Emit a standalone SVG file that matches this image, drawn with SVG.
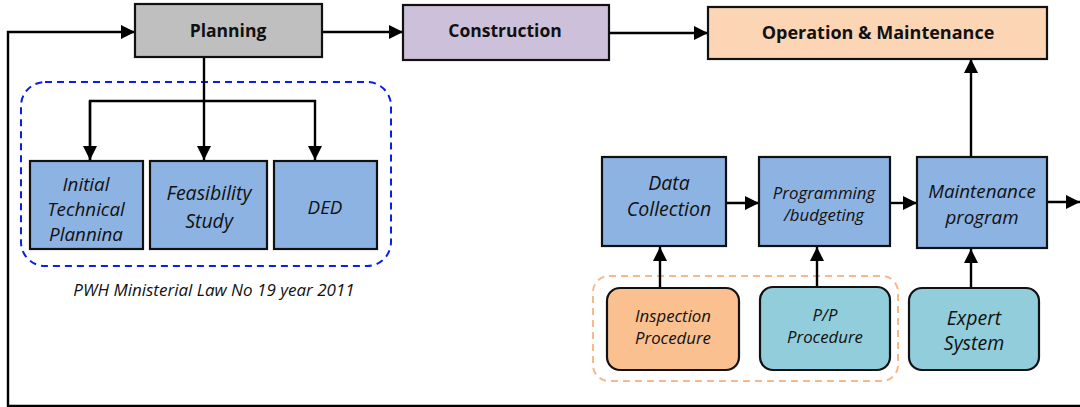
<svg xmlns="http://www.w3.org/2000/svg" width="1080" height="407" viewBox="0 0 1080 407">
  <style>
    .box { stroke: #111; stroke-width: 2.2; }
    .wire { fill: none; stroke: #000; stroke-width: 2.4; }
    .title { font-family: "Open Sans", "Liberation Sans", sans-serif; font-weight: bold; font-size: 17.5px; fill: #111; text-anchor: middle; dominant-baseline: central; }
    .lbl { font-family: "Open Sans", "Liberation Sans", sans-serif; font-style: italic; font-size: 18.8px; fill: #111; text-anchor: middle; dominant-baseline: central; }
    .sm { font-size: 16.8px; }
    .grey { fill: #bfbfbf; }
    .lilac { fill: #ccc0da; }
    .peach { fill: #fcd5b4; }
    .blue { fill: #8db3e2; }
    .orange { fill: #fac090; }
    .teal { fill: #92cddc; }
  </style>
  <defs>
    <marker id="arrow" viewBox="0 0 14 14" refX="14" refY="7" markerWidth="14" markerHeight="14" markerUnits="userSpaceOnUse" orient="auto">
      <path d="M0,0 L14,7 L0,14 Z" fill="#000"/>
    </marker>
  </defs>

  <rect width="1080" height="407" fill="#fff"/>

  <!-- dashed group outlines -->
  <rect x="21" y="82" width="370" height="184" rx="24" fill="none" stroke="#0a1cf0" stroke-width="2" stroke-dasharray="7,5"/>
  <rect x="593" y="276" width="305" height="105" rx="16" fill="none" stroke="#f8b98a" stroke-width="2" stroke-dasharray="7,5"/>
  <text x="214" y="289" class="lbl" style="font-size:17px">PWH Ministerial Law No 19 year 2011</text>

  <!-- connectors -->
  <g id="connectors">
    <polyline class="wire" points="1080,406 8,406 8,32 135,32" stroke="#333" marker-end="url(#arrow)"/>
    <line class="wire" x1="322" y1="32" x2="403" y2="32" marker-end="url(#arrow)"/>
    <line class="wire" x1="609" y1="33" x2="708" y2="33" marker-end="url(#arrow)"/>
    <line class="wire" x1="204" y1="57" x2="204" y2="160" marker-end="url(#arrow)"/>
    <polyline class="wire" points="90,160 90,101 315,101 315,160" marker-end="url(#arrow)"/>
    <line class="wire" x1="90" y1="101" x2="90" y2="160" marker-end="url(#arrow)"/>
    <line class="wire" x1="726" y1="203" x2="759" y2="203" marker-end="url(#arrow)"/>
    <line class="wire" x1="890" y1="203" x2="917" y2="203" marker-end="url(#arrow)"/>
    <line class="wire" x1="1047" y1="202" x2="1080" y2="202" marker-end="url(#arrow)"/>
    <line class="wire" x1="971" y1="157" x2="971" y2="59" marker-end="url(#arrow)"/>
    <line class="wire" x1="660" y1="288" x2="660" y2="247" marker-end="url(#arrow)"/>
    <line class="wire" x1="817" y1="287" x2="817" y2="247" marker-end="url(#arrow)"/>
    <line class="wire" x1="971" y1="288" x2="971" y2="249" marker-end="url(#arrow)"/>
  </g>

  <!-- top lifecycle stages -->
  <g id="planning">
    <rect class="box grey" x="135" y="4" width="187" height="53"/>
    <text class="title" x="228" y="30">Planning</text>
  </g>
  <g id="construction">
    <rect class="box lilac" x="403" y="5" width="206" height="55"/>
    <text class="title" x="505" y="30">Construction</text>
  </g>
  <g id="operation-maintenance">
    <rect class="box peach" x="708" y="7" width="339" height="52"/>
    <text class="title" x="878" y="32" style="font-size:18px">Operation &amp; Maintenance</text>
  </g>

  <!-- planning sub-stages -->
  <g id="initial-technical">
    <rect class="box blue" x="30" y="161" width="113" height="88"/>
    <text class="lbl" x="86" y="184">Initial</text>
    <text class="lbl" x="86" y="209">Technical</text>
    <text class="lbl" x="86" y="234">Plannina</text>
  </g>
  <g id="feasibility">
    <rect class="box blue" x="150" y="161" width="117" height="88"/>
    <text class="lbl" x="209" y="192" style="font-size:19.5px">Feasibility</text>
    <text class="lbl" x="209" y="220" style="font-size:19.5px">Study</text>
  </g>
  <g id="ded">
    <rect class="box blue" x="274" y="161" width="103" height="88"/>
    <text class="lbl" x="325" y="207">DED</text>
  </g>

  <!-- maintenance management chain -->
  <g id="data-collection">
    <rect class="box blue" x="602" y="157" width="124" height="89"/>
    <text class="lbl" x="669" y="182" style="font-size:19.5px">Data</text>
    <text class="lbl" x="669" y="208" style="font-size:19.5px">Collection</text>
  </g>
  <g id="programming">
    <rect class="box blue" x="759" y="157" width="131" height="89"/>
    <text class="lbl sm" x="824" y="192">Programming</text>
    <text class="lbl sm" x="824" y="214">/budgeting</text>
  </g>
  <g id="maintenance-program">
    <rect class="box blue" x="917" y="157" width="130" height="91"/>
    <text class="lbl" x="982" y="191">Maintenance</text>
    <text class="lbl" x="982" y="217">program</text>
  </g>

  <!-- supporting procedures -->
  <g id="inspection">
    <rect class="box orange" x="607" y="288" width="132" height="82" rx="13"/>
    <text class="lbl sm" x="673" y="315">Inspection</text>
    <text class="lbl sm" x="673" y="337">Procedure</text>
  </g>
  <g id="pp-procedure">
    <rect class="box teal" x="760" y="287" width="130" height="83" rx="13"/>
    <text class="lbl sm" x="825" y="314">P/P</text>
    <text class="lbl sm" x="825" y="336">Procedure</text>
  </g>
  <g id="expert-system">
    <rect class="box teal" x="909" y="288" width="130" height="82" rx="13"/>
    <text class="lbl" x="974" y="317" style="font-size:19.5px">Expert</text>
    <text class="lbl" x="974" y="342" style="font-size:19.5px">System</text>
  </g>
</svg>
